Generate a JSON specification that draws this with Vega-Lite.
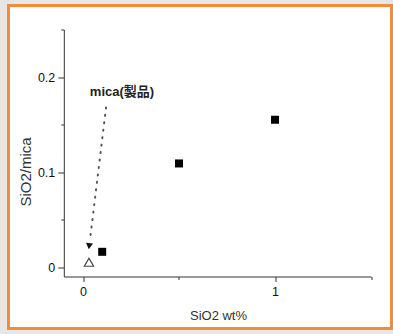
{
  "$schema": "https://vega.github.io/schema/vega-lite/v6.json",
  "width": 383,
  "height": 323,
  "autosize": {"type": "none"},
  "padding": {"left": 8.5, "top": 5.5, "right": 1.5, "bottom": 5.5},
  "background": "#e6e6e6",
  "config": {
    "view": {"stroke": "#f28c38", "strokeWidth": 3, "fill": "white"},
    "font": "Liberation Sans"
  },
  "datasets": {
    "samples": [
      {"sio2_wt": 0.1, "ratio": 0.016},
      {"sio2_wt": 0.5, "ratio": 0.109},
      {"sio2_wt": 1.0, "ratio": 0.155}
    ],
    "mica": [{"sio2_wt": 0.031, "ratio": 0.005}],
    "arrow": [
      {"sio2_wt": 0.12, "ratio": 0.168, "order": 1},
      {"sio2_wt": 0.036, "ratio": 0.028, "order": 2}
    ],
    "arrowhead": [{"sio2_wt": 0.032, "ratio": 0.022}],
    "note": [{"sio2_wt": 0.203, "ratio": 0.184, "text": "mica(製品)"}]
  },
  "encoding": {
    "x": {
      "field": "sio2_wt", "type": "quantitative",
      "scale": {"domain": [-0.1, 1.5], "range": [55.3, 362.5], "nice": false, "zero": false},
      "axis": {
        "title": "SiO2 wt%",
        "offset": -52,
        "values": [0, 0.5, 1, 1.5],
        "labelExpr": "datum.value == 0 || datum.value == 1 ? format(datum.value, '~g') : ''",
        "tickSize": {"condition": {"test": "datum.value == 0 || datum.value == 1", "value": 5}, "value": 3},
        "grid": false,
        "domainColor": "#333", "tickColor": "#333",
        "labelColor": "#111", "labelFontSize": 12.5, "labelPadding": 4,
        "titleColor": "#333", "titleFontSize": 13, "titleFontWeight": "normal",
        "titleX": 209.5, "titleY": 38.5, "titleBaseline": "middle", "titleAlign": "center"
      }
    },
    "y": {
      "field": "ratio", "type": "quantitative",
      "scale": {"domain": [-0.01, 0.25], "range": [271, 24], "nice": false, "zero": false},
      "axis": {
        "title": "SiO2/mica",
        "offset": -55.3,
        "values": [0, 0.05, 0.1, 0.15, 0.2, 0.25],
        "labelExpr": "abs(round(datum.value*10) - datum.value*10) < 1e-6 ? format(datum.value, '~g') : ''",
        "tickSize": {"condition": {"test": "abs(round(datum.value*10) - datum.value*10) < 1e-6", "value": 6}, "value": 3},
        "grid": false,
        "domainColor": "#333", "tickColor": "#333",
        "labelColor": "#111", "labelFontSize": 12.5, "labelPadding": 3,
        "titleColor": "#333", "titleFontSize": 15, "titleFontWeight": "normal",
        "titleX": -38.8, "titleY": 166, "titleBaseline": "middle", "titleAlign": "center", "titleAngle": -90
      }
    }
  },
  "layer": [
    {
      "data": {"name": "arrow"},
      "mark": {"type": "line", "color": "#555", "strokeWidth": 2, "strokeDash": [1, 6.5], "strokeCap": "round"},
      "encoding": {"order": {"field": "order"}}
    },
    {
      "data": {"name": "arrowhead"},
      "mark": {"type": "point", "shape": "triangle-down", "filled": true, "color": "#111", "size": 50, "opacity": 1, "angle": 7}
    },
    {
      "data": {"name": "mica"},
      "mark": {"type": "point", "shape": "triangle-up", "filled": false, "color": "#444", "strokeWidth": 1.2, "size": 85, "opacity": 1}
    },
    {
      "data": {"name": "samples"},
      "mark": {"type": "square", "color": "#000", "size": 64, "opacity": 1}
    },
    {
      "data": {"name": "note"},
      "mark": {"type": "text", "font": "Liberation Sans, Noto Sans CJK JP, sans-serif", "fontSize": 13, "fontWeight": "bold", "color": "#222", "align": "center", "baseline": "middle"},
      "encoding": {"text": {"field": "text"}}
    }
  ]
}
